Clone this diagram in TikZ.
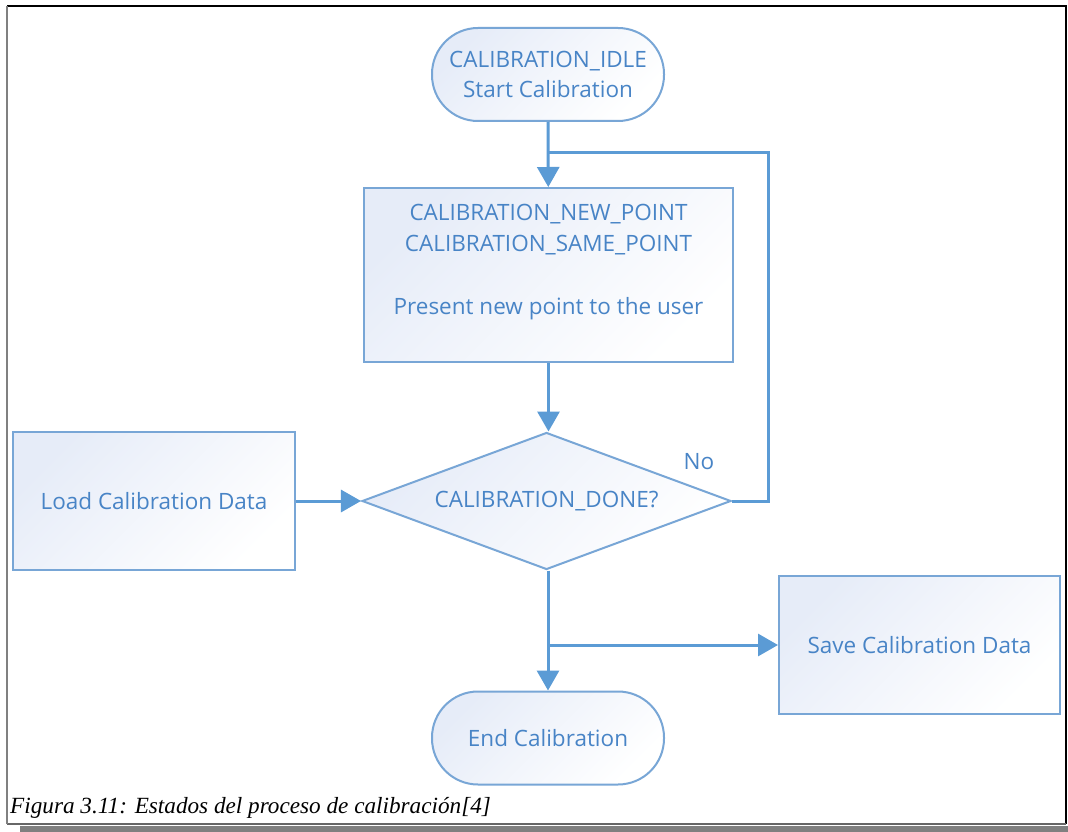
\documentclass[tikz,border=0pt]{standalone}
\usepackage{fontspec}
\setmainfont{Open Sans}
\newfontfamily\capfont{Liberation Serif}
\usetikzlibrary{arrows.meta,shapes.geometric}
\definecolor{lineblue}{RGB}{91,155,213}
\definecolor{edgeblue}{RGB}{120,166,214}
\definecolor{txtblue}{RGB}{72,132,198}
\definecolor{fillblue}{RGB}{230,236,248}
\definecolor{shadowgray}{RGB}{128,128,128}
\begin{document}
\begin{tikzpicture}[x=1pt,y=-1pt,
  every node/.style={font=\fontsize{22.5}{30.5}\selectfont, text=txtblue},
  shadebox/.style={draw=edgeblue, line width=2pt, top color=fillblue, bottom color=white, shading angle=45, inner sep=0pt, align=center},
  procbox/.style={shadebox, rectangle},
  termbox/.style={shadebox, rectangle, rounded corners=46pt, minimum width=232pt, minimum height=93pt},
  decbox/.style={shadebox, diamond, aspect=2.7, minimum width=369pt, minimum height=137pt},
  conn/.style={draw=lineblue, line width=3pt, -{Triangle[length=20pt,width=22pt]}},
  plainconn/.style={draw=lineblue, line width=3pt},
  frameline/.style={line width=2pt}
]
\useasboundingbox (0,0) rectangle (1068,832);
\fill[white] (0,0) rectangle (1068,832);
% frame
\fill[shadowgray] (20,826) rectangle (1068,832);
\draw[frameline, black] (7,6) -- (1066,6) -- (1066,824);
\draw[frameline, shadowgray!80!black] (1066,824) -- (7,824);
\draw[frameline, shadowgray] (7,824) -- (7,6);
% nodes
\node[termbox] (start) at (548,74.5) {CALIBRATION\_IDLE\\Start Calibration};
\node[procbox, minimum width=369pt, minimum height=174pt] (box1) at (548.5,275) {CALIBRATION\_NEW\_POINT\\CALIBRATION\_SAME\_POINT\\[33pt]Present new point to the user\\\mbox{}};
\node[decbox] (dec) at (546.5,501) {CALIBRATION\_DONE?};
\node[procbox, minimum width=282pt, minimum height=138pt] (load) at (154,501) {Load Calibration Data};
\node[procbox, minimum width=281pt, minimum height=138pt] (save) at (919.5,645) {Save Calibration Data};
\node[termbox] (end) at (548,738) {End Calibration};
\node (no) at (699,462) {No};
\coordinate (loopin) at (548,153);
\coordinate (branch) at (548,645);
% connectors
\draw[conn] (start) -- (box1);
\draw[conn] (box1) -- (box1.south |- dec.north);
\draw[conn] (load) -- (dec);
\draw[plainconn] (dec.east) -- ++(36,0) |- (loopin);
\draw[conn] (dec.south -| end.north) -- (end);
\draw[conn] (branch) -- (save.west);
% caption
\node[anchor=base west, text=black, font=\capfont\itshape\fontsize{23.2}{27}\selectfont, inner sep=0pt] (cap) at (10,813) {Figura 3.11: Estados del proceso de calibración[4]};
\end{tikzpicture}
\end{document}
